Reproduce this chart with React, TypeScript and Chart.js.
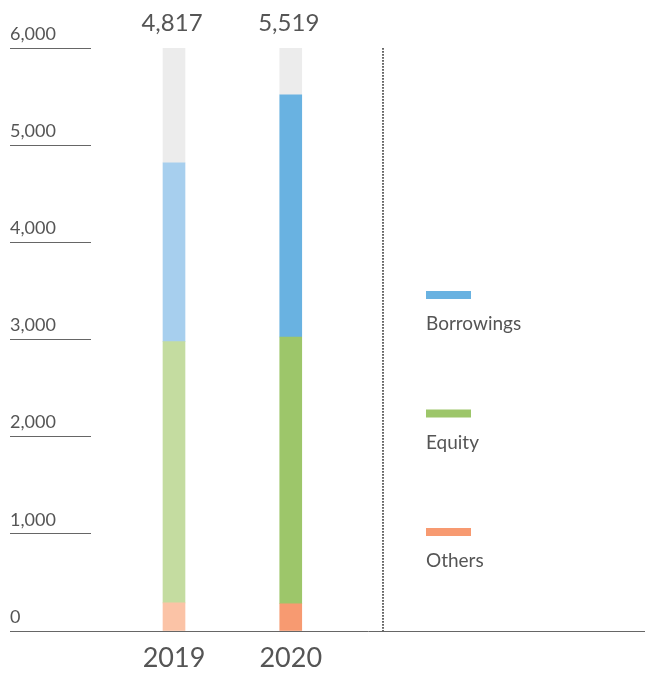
import { useEffect, useRef } from 'react';
import { Chart, registerables } from 'chart.js';

Chart.register(...registerables);

// ---- data ----
const categories = ['2019', '2020'];
const others = [290, 280];
const equity = [2688, 2746];
const borrowings = [1839, 2493];
const totals = [4817, 5519];
const axisMax = 6000;
const tickStep = 1000;
const legendLabels = ['Borrowings', 'Equity', 'Others'];

// ---- style ----
const FONT = 'Lato, "Open Sans", sans-serif';
const TEXT = '#555555';
const LINE = '#666666';
const C_OTHERS = ['#fbc3a6', '#f79a71'];
const C_EQUITY = ['#c4dca0', '#9dc66a'];
const C_BORROW = ['#a7cfee', '#69b2e1'];
const C_REST = '#ececec';

const overlay = {
  id: 'overlay',
  afterDatasetsDraw(chart: any) {
    const { ctx, chartArea, scales } = chart;
    const x = scales.x;
    const meta = chart.getDatasetMeta(0);
    ctx.save();
    // totals above bars
    ctx.font = `24px ${FONT}`;
    ctx.fillStyle = TEXT;
    ctx.textAlign = 'center';
    ctx.textBaseline = 'alphabetic';
    totals.forEach((t, i) => {
      ctx.fillText(t.toLocaleString('en-US'), meta.data[i].x - 2, chartArea.top - 17);
    });
    // dotted separator
    const dx = Math.round(x.getPixelForValue(1.79));
    ctx.strokeStyle = LINE;
    ctx.lineWidth = 2;
    ctx.setLineDash([1.7, 1.3]);
    ctx.beginPath();
    ctx.moveTo(dx, chartArea.top);
    ctx.lineTo(dx, chartArea.bottom);
    ctx.stroke();
    ctx.setLineDash([]);
    // legend
    const lx = dx + 43;
    const colors = [C_BORROW[1], C_EQUITY[1], C_OTHERS[1]];
    ctx.font = `19px ${FONT}`;
    ctx.textAlign = 'left';
    legendLabels.forEach((lab, i) => {
      const top = 291 + i * 118.5;
      ctx.fillStyle = colors[i];
      ctx.fillRect(lx, top, 45, 8);
      ctx.fillStyle = TEXT;
      ctx.fillText(lab, lx, top + 39);
    });
    ctx.restore();
  },
};

export default function App() {
  const ref = useRef<HTMLCanvasElement | null>(null);

  useEffect(() => {
    if (!ref.current) return;
    const pts = (arr: number[]) => arr.map((v, i) => ({ x: i, y: v }));
    const rest = totals.map((t) => axisMax - t);
    const chart = new Chart(ref.current, {
      type: 'bar',
      data: {
        datasets: [
          { label: 'Others', data: pts(others), backgroundColor: C_OTHERS },
          { label: 'Equity', data: pts(equity), backgroundColor: C_EQUITY },
          { label: 'Borrowings', data: pts(borrowings), backgroundColor: C_BORROW },
          { label: 'rest', data: pts(rest), backgroundColor: C_REST },
        ],
      },
      options: {
        animation: false,
        responsive: true,
        maintainAspectRatio: false,
        barThickness: 22,
        layout: { padding: { left: 10, top: 48, right: 0, bottom: 0 } },
        plugins: { legend: { display: false }, tooltip: { enabled: false } },
        scales: {
          x: {
            type: 'linear',
            stacked: true,
            offset: false,
            min: -83 / 116.75,
            max: 471 / 116.75,
            grid: { display: false, drawTicks: false, offset: false },
            border: { display: true, color: LINE, width: 1 },
            afterBuildTicks: (s: any) => {
              s.ticks = categories.map((_, i) => ({ value: i }));
            },
            afterFit: (s: any) => {
              s.height = 43;
            },
            ticks: {
              autoSkip: false,
              maxRotation: 0,
              padding: 11,
              color: TEXT,
              font: { family: FONT, size: 27 },
              callback: (v: any) => categories[v] ?? '',
            },
          },
          y: {
            stacked: true,
            min: 0,
            max: axisMax,
            afterFit: (s: any) => {
              s.width = 81;
            },
            grid: {
              display: true,
              drawOnChartArea: false,
              drawTicks: true,
              tickLength: 81,
              color: LINE,
              lineWidth: 1,
            },
            border: { display: false },
            ticks: {
              stepSize: tickStep,
              crossAlign: 'far',
              labelOffset: -14,
              padding: 0,
              color: TEXT,
              font: { family: FONT, size: 18 },
              callback: (v: any) => Number(v).toLocaleString('en-US'),
            },
          },
        },
      } as any,
      plugins: [overlay],
    });
    return () => chart.destroy();
  }, []);

  return (
    <div style={{ position: 'fixed', left: 0, top: 0, width: 645, height: 674, background: '#fff' }}>
      <canvas ref={ref} />
    </div>
  );
}
